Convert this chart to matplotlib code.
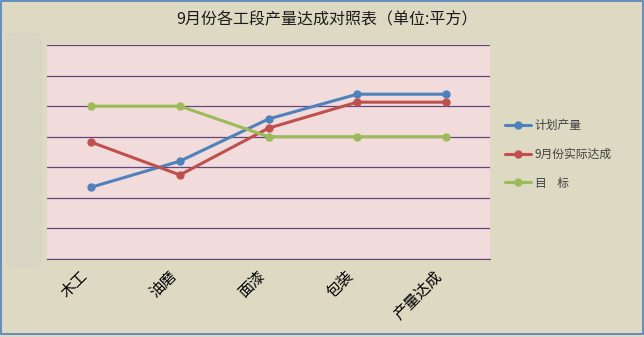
import matplotlib
matplotlib.use("Agg")
import matplotlib.pyplot as plt
from matplotlib.patches import FancyBboxPatch, Rectangle

plt.rcParams['font.family'] = ['Noto Sans CJK SC', 'DejaVu Sans']

categories = ['木工', '油磨', '面漆', '包装', '产量达成']
plan = [2.35, 3.2, 4.58, 5.39, 5.39]
actual = [3.82, 2.75, 4.28, 5.13, 5.13]
target = [5.0, 5.0, 4.0, 4.0, 4.0]
series_names = ['计划产量', '9月份实际达成', '目    标']
colors = ['#4F81BD', '#C0504D', '#9BBB59']
title = '9月份各工段产量达成对照表（单位:平方）'

W, H = 644, 337
fig = plt.figure(figsize=(W / 100, H / 100), dpi=100)
fig.patch.set_facecolor('#DDD9C3')

ax = fig.add_axes([47 / W, (H - 259) / H, (490 - 47) / W, (259 - 45) / H])
ax.set_facecolor('#F2DCDB')

x = list(range(len(categories)))
for vals, name, c in zip([plan, actual, target], series_names, colors):
    ax.plot(x, vals, color=c, lw=2.2, marker='o', markersize=5, label=name,
            solid_capstyle='round')

ax.set_xlim(-0.5, len(categories) - 0.5)
ax.set_ylim(0, 7)
ax.set_yticks(range(0, 8))
ax.yaxis.grid(True, color='#5F497A', lw=0.9)
ax.set_axisbelow(True)
ax.tick_params(axis='y', length=0, labelleft=False)
ax.tick_params(axis='x', length=0, pad=6)
ax.set_xticks(x)
ax.set_xticklabels(categories, rotation=45, ha='right', va='top',
                   fontsize=11, color='black')
for s in ['top', 'right', 'left']:
    ax.spines[s].set_visible(False)
ax.spines['bottom'].set_color('#5F497A')

fig.text(327 / W, 1 - 20 / H, title, ha='center', va='center',
         fontsize=11.5, color='#1a1a1a')

leg = ax.legend(loc='center left', bbox_to_anchor=(1.01, 0.49), frameon=False,
                fontsize=8.5, labelspacing=1.35, handlelength=2.2,
                handletextpad=0.3)
for t in leg.get_texts():
    t.set_color('#404040')

# blurred y tick-label region (obscured in reference)
fig.patches.append(FancyBboxPatch((6 / W, (H - 268) / H), 36 / W, 236 / H,
                                  boxstyle='round,pad=0.0,rounding_size=0.02',
                                  transform=fig.transFigure,
                                  facecolor='#D9D5C6', edgecolor='none',
                                  alpha=0.9))

# outer border
fig.patches.append(Rectangle((0.002, 0.008), 0.996, 0.99,
                             transform=fig.transFigure, fill=False,
                             edgecolor='#4F81BD', lw=1.2))

fig.savefig('out.png', dpi=100, facecolor=fig.get_facecolor())
